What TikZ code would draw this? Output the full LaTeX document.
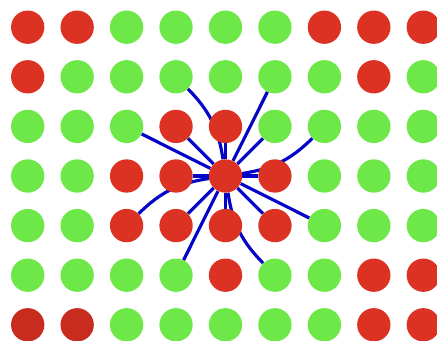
\documentclass[tikz,border=0pt]{standalone}
\usetikzlibrary{positioning, backgrounds}

\definecolor{dotR}{RGB}{220,50,35}
\definecolor{dotD}{RGB}{200,44,30}
\definecolor{dotG}{RGB}{110,232,72}
\definecolor{linkblue}{RGB}{5,5,200}

\begin{document}
\begin{tikzpicture}[
    x=0.03cm, y=-0.03cm,
    dot/.style={circle, inner sep=0pt, minimum size=1cm},
    link/.style={draw=linkblue, line width=0.095cm}
]
    \useasboundingbox (0,0) rectangle (437,341);

    % lattice of dots, one row per entry
    \foreach \row [count=\r from 0] in {
        {R,R,G,G,G,G,R,R,R},
        {R,G,G,G,G,G,G,R,G},
        {G,G,G,R,R,G,G,G,G},
        {G,G,R,R,R,R,G,G,G},
        {G,G,R,R,R,R,G,G,G},
        {G,G,G,G,R,G,G,R,R},
        {D,D,G,G,G,G,G,R,R}}{
        \foreach \c [count=\k from 0] in \row {
            \node[dot, fill=dot\c] (d-\r-\k) at (27.7+49.45*\k, 27.2+49.6*\r) {};
        }
    }

    % links from the central dot
    \begin{scope}[on background layer]
        \foreach \t in {1-5, 2-2, 2-3, 2-4, 2-5, 3-3, 3-5, 4-3, 4-4, 4-5, 4-6, 5-3}
            \draw[link] (d-3-4) -- (d-\t);
        \foreach \t in {1-3, 2-6, 4-2, 5-5}
            \draw[link] (d-3-4) to[bend right=18] (d-\t);
    \end{scope}
\end{tikzpicture}
\end{document}
